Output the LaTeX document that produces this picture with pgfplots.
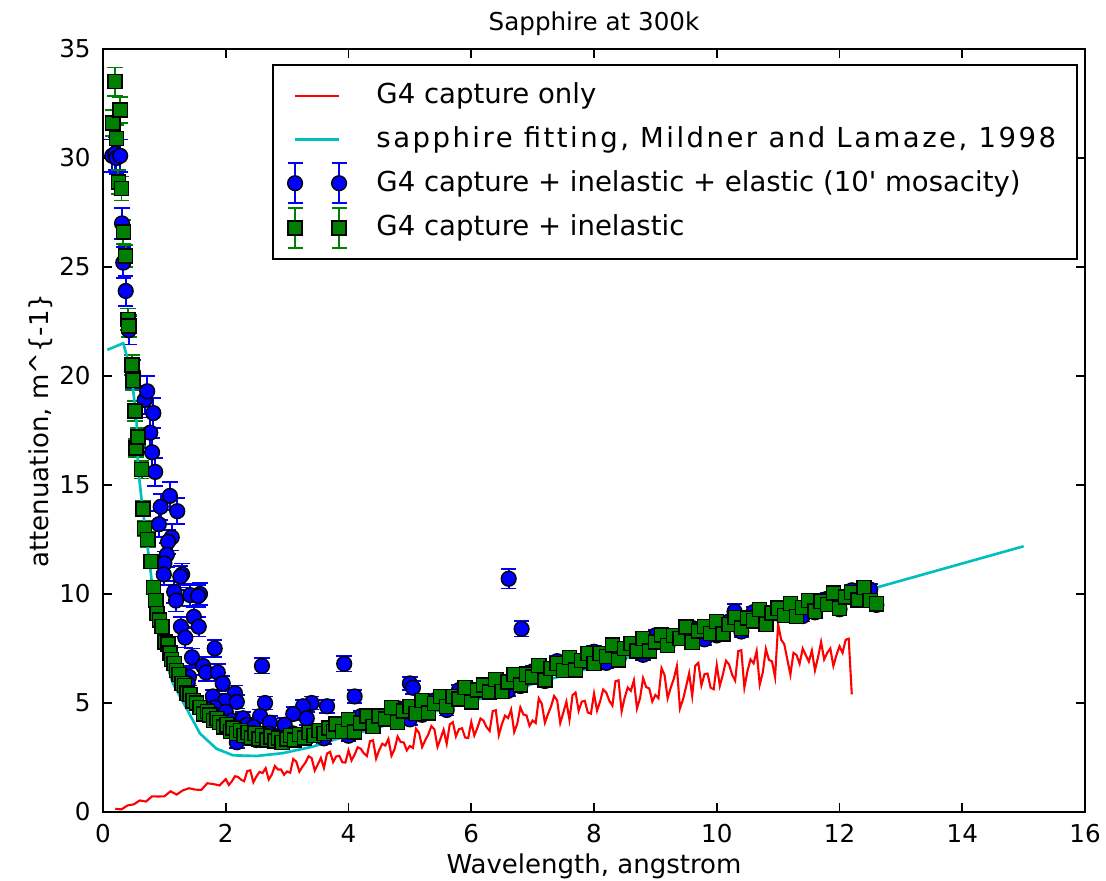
\documentclass[border=0pt]{standalone}
\usepackage{fontspec}
\setmainfont{DejaVu Sans}
\usepackage{pgfplots}
\usepackage{pgfplotstable}
\pgfplotsset{compat=1.18}
\definecolor{mgreen}{rgb}{0,0.5,0}
\definecolor{mcyan}{rgb}{0,0.75,0.75}

\pgfplotstableread{
x y e
0.15 30.1 0.75
0.20 30.2 0.75
0.22 30.0 0.75
0.28 30.1 0.75
0.31 27.0 0.7
0.33 25.2 0.7
0.37 23.9 0.7
0.42 22.1 0.65
0.49 20.1 0.65
0.68 18.9 0.65
0.72 19.3 0.7
0.82 18.3 0.7
0.77 17.4 0.7
0.80 16.5 0.65
0.85 15.6 0.65
1.09 14.5 0.65
0.94 14.0 0.6
1.21 13.8 0.6
0.91 13.2 0.6
1.12 12.6 0.6
1.06 12.4 0.55
1.04 11.8 0.55
1.00 11.4 0.55
0.99 10.9 0.5
1.29 10.9 0.5
1.26 10.8 0.5
1.16 10.1 0.5
1.19 9.7 0.5
1.42 9.95 0.5
1.58 10.0 0.5
1.55 9.9 0.5
1.48 8.95 0.45
1.56 8.5 0.45
1.27 8.5 0.45
1.34 8.0 0.45
1.82 7.5 0.4
1.45 7.1 0.4
1.63 6.7 0.4
1.68 6.4 0.4
1.87 6.4 0.4
1.40 6.2 0.4
1.38 5.9 0.35
1.95 5.9 0.35
2.59 6.7 0.35
3.93 6.8 0.35
2.15 5.45 0.35
4.10 5.3 0.3
1.79 5.3 0.3
1.99 5.1 0.3
2.18 5.05 0.3
1.82 4.8 0.3
1.70 4.7 0.3
2.00 4.6 0.3
2.10 4.2 0.3
2.64 5.0 0.3
3.40 5.0 0.3
3.26 4.85 0.3
3.10 4.5 0.3
3.65 4.85 0.3
5.00 5.9 0.3
5.05 5.7 0.3
2.28 4.3 0.3
2.56 4.4 0.3
2.72 4.1 0.3
2.96 4.0 0.3
3.32 4.3 0.3
2.35 4.0 0.3
2.45 3.9 0.3
2.18 3.2 0.25
2.30 3.5 0.25
2.50 3.3 0.25
2.70 3.6 0.25
2.90 3.25 0.25
3.10 3.6 0.25
3.30 3.4 0.25
3.50 3.7 0.25
3.60 3.38 0.25
3.80 3.99 0.25
4.00 3.50 0.25
4.20 4.39 0.25
4.40 3.98 0.25
4.60 4.32 0.25
4.80 4.76 0.25
5.00 4.25 0.25
5.20 4.46 0.25
5.40 5.12 0.25
5.60 4.68 0.25
5.80 5.59 0.25
6.00 5.20 0.25
6.20 5.57 0.25
6.40 6.04 0.25
6.60 5.56 0.25
6.80 5.78 0.25
7.00 6.45 0.25
7.20 6.01 0.25
7.40 6.92 0.25
7.60 6.53 0.25
7.80 6.89 0.25
8.00 7.35 0.25
8.20 6.84 0.25
8.40 7.03 0.25
8.60 7.67 0.25
8.80 7.21 0.25
9.00 8.10 0.25
9.20 7.68 0.25
9.40 8.01 0.25
9.60 8.44 0.25
9.80 7.92 0.25
10.00 8.10 0.25
10.20 8.74 0.25
10.40 8.28 0.25
10.60 9.17 0.25
10.80 8.76 0.25
11.00 9.10 0.25
11.20 9.52 0.25
11.40 8.99 0.25
11.60 9.16 0.25
11.80 9.78 0.25
12.00 9.30 0.25
12.20 10.17 0.25
12.40 9.74 0.25
12.50 10.2 0.25
12.60 9.5 0.25
6.61 10.7 0.45
6.82 8.4 0.35
10.29 9.2 0.35
}\bluedata

\pgfplotstableread{
x y e
0.16 31.6 0.6
0.195 33.5 0.65
0.22 30.9 0.6
0.25 28.9 0.55
0.28 32.2 0.6
0.30 28.6 0.55
0.33 26.6 0.55
0.37 25.5 0.5
0.41 22.6 0.5
0.42 22.3 0.5
0.47 20.5 0.45
0.49 19.8 0.45
0.52 18.4 0.45
0.54 16.7 0.4
0.57 17.2 0.4
0.63 15.7 0.4
0.65 13.9 0.35
0.68 13.0 0.35
0.73 12.5 0.35
0.78 11.5 0.3
0.82 10.3 0.3
0.86 9.7 0.3
0.88 9.1 0.3
0.92 8.8 0.3
0.96 8.5 0.3
1.01 7.8 0.3
1.06 7.7 0.3
1.09 7.3 0.3
1.12 7.0 0.3
1.16 6.8 0.25
1.20 6.5 0.25
1.24 6.3 0.25
1.29 5.9 0.25
1.33 5.8 0.25
1.37 5.45 0.25
1.42 5.4 0.25
1.47 5.1 0.25
1.52 5.0 0.25
1.58 4.8 0.25
1.64 4.5 0.25
1.70 4.6 0.25
1.74 4.45 0.25
1.80 4.2 0.2
1.86 4.3 0.2
1.90 4.1 0.2
1.96 3.9 0.2
2.02 4.0 0.2
2.08 3.7 0.2
2.12 3.85 0.2
2.18 3.6 0.2
2.24 3.75 0.2
2.30 3.5 0.2
2.36 3.65 0.2
2.42 3.4 0.2
2.48 3.6 0.2
2.54 3.35 0.2
2.60 3.5 0.2
2.67 3.3 0.2
2.74 3.45 0.2
2.80 3.25 0.2
2.86 3.4 0.2
2.92 3.2 0.2
3.00 3.35 0.2
3.06 3.5 0.2
3.12 3.3 0.2
3.20 3.55 0.2
3.28 3.4 0.2
3.36 3.65 0.2
3.44 3.5 0.2
3.52 3.75 0.2
3.60 3.6 0.2
3.68 3.85 0.2
3.76 3.7 0.2
3.8 4.04 0.2
3.9 3.70 0.2
4.0 4.25 0.2
4.1 3.67 0.2
4.2 4.09 0.2
4.3 4.41 0.2
4.4 3.93 0.2
4.5 4.40 0.2
4.6 4.27 0.2
4.7 4.79 0.2
4.8 4.11 0.2
4.9 4.63 0.2
5.0 4.85 0.2
5.1 4.53 0.2
5.2 5.11 0.2
5.3 4.54 0.2
5.4 4.97 0.2
5.5 5.30 0.2
5.6 4.83 0.2
5.7 5.31 0.2
5.8 5.19 0.2
5.9 5.72 0.2
6.0 5.05 0.2
6.1 5.59 0.2
6.2 5.82 0.2
6.3 5.51 0.2
6.4 6.09 0.2
6.5 5.53 0.2
6.6 5.96 0.2
6.7 6.30 0.2
6.8 5.83 0.2
6.9 6.32 0.2
7.0 6.20 0.2
7.1 6.73 0.2
7.2 6.06 0.2
7.3 6.59 0.2
7.4 6.82 0.2
7.5 6.50 0.2
7.6 7.08 0.2
7.7 6.51 0.2
7.8 6.94 0.2
7.9 7.27 0.2
8.0 6.80 0.2
8.1 7.27 0.2
8.2 7.14 0.2
8.3 7.66 0.2
8.4 6.98 0.2
8.5 7.50 0.2
8.6 7.72 0.2
8.7 7.39 0.2
8.8 7.96 0.2
8.9 7.38 0.2
9.0 7.80 0.2
9.1 8.12 0.2
9.2 7.63 0.2
9.3 8.10 0.2
9.4 7.96 0.2
9.5 8.48 0.2
9.6 7.79 0.2
9.7 8.31 0.2
9.8 8.52 0.2
9.9 8.19 0.2
10.0 8.75 0.2
10.1 8.17 0.2
10.2 8.59 0.2
10.3 8.91 0.2
10.4 8.43 0.2
10.5 8.90 0.2
10.6 8.77 0.2
10.7 9.29 0.2
10.8 8.61 0.2
10.9 9.13 0.2
11.0 9.35 0.2
11.1 9.01 0.2
11.2 9.57 0.2
11.3 8.98 0.2
11.4 9.39 0.2
11.5 9.70 0.2
11.6 9.21 0.2
11.7 9.67 0.2
11.8 9.53 0.2
11.9 10.04 0.2
12.0 9.35 0.2
12.1 9.86 0.2
12.2 10.07 0.2
12.3 9.73 0.2
12.4 10.29 0.2
12.5 9.70 0.2
12.6 9.55 0.2
}\greendata

\pgfplotstableread{
x y
0.07 21.2
0.33 21.5
0.41 20.7
0.49 19.4
0.55 17.8
0.57 15.8
0.63 14.3
0.71 12.5
0.77 11.2
0.82 9.9
0.90 8.2
1.01 7.0
1.14 5.9
1.37 4.7
1.58 3.6
1.85 2.9
2.12 2.6
2.50 2.57
2.93 2.7
3.42 3.0
3.75 3.3
5.00 4.29
6.00 5.08
8.00 6.66
10.00 8.24
12.00 9.82
15.00 12.19
}\cyandata

\pgfplotstableread{
x y
0.2 0.15
0.3 0.12
0.4 0.30
0.5 0.35
0.6 0.53
0.7 0.48
0.8 0.72
0.9 0.71
1.0 0.72
1.1 0.95
1.2 0.80
1.3 0.99
1.4 1.09
1.5 1.03
1.6 1.01
1.7 1.32
1.8 1.28
1.9 1.22
2.0 1.51
2.05 1.24
2.1 1.41
2.15 1.64
2.2 1.61
2.25 1.48
2.3 1.41
2.35 1.88
2.4 1.91
2.45 1.36
2.5 1.63
2.55 1.84
2.6 1.79
2.65 2.01
2.7 1.49
2.75 1.71
2.8 2.11
2.85 1.95
2.9 1.95
2.95 1.71
3.0 1.86
3.05 1.80
3.1 2.43
3.15 2.31
3.2 1.85
3.25 2.08
3.3 2.27
3.35 2.56
3.4 2.47
3.45 1.90
3.5 2.18
3.55 2.48
3.6 2.02
3.65 2.68
3.7 2.76
3.75 2.29
3.8 2.55
3.85 2.58
3.9 2.28
3.95 2.27
4.0 2.82
4.05 2.37
4.1 2.64
4.15 2.97
4.2 2.90
4.25 2.69
4.3 2.57
4.35 3.25
4.4 3.29
4.45 2.45
4.5 2.84
4.55 3.13
4.6 3.05
4.65 3.35
4.7 2.58
4.75 2.88
4.8 3.46
4.85 3.21
4.9 3.19
4.95 2.83
5.0 3.03
5.05 2.94
5.1 3.82
5.15 3.63
5.2 2.98
5.25 3.29
5.3 3.56
5.35 3.94
5.4 3.79
5.45 2.99
5.5 3.37
5.55 3.77
5.6 3.13
5.65 4.02
5.7 4.12
5.75 3.47
5.8 3.80
5.85 3.84
5.9 3.42
5.95 3.39
6.0 4.13
6.05 3.51
6.1 3.86
6.15 4.29
6.2 4.19
6.25 3.89
6.3 3.72
6.35 4.63
6.4 4.67
6.45 3.53
6.5 4.04
6.55 4.42
6.6 4.31
6.65 4.69
6.7 3.67
6.75 4.05
6.8 4.80
6.85 4.47
6.9 4.43
6.95 3.95
7.0 4.20
7.05 4.08
7.1 5.21
7.15 4.96
7.2 4.10
7.25 4.49
7.3 4.84
7.35 5.32
7.4 5.12
7.45 4.08
7.5 4.56
7.55 5.06
7.6 4.23
7.65 5.36
7.7 5.48
7.75 4.64
7.8 5.06
7.85 5.10
7.9 4.56
7.95 4.51
8.0 5.43
8.05 4.65
8.1 5.08
8.15 5.62
8.2 5.48
8.25 5.10
8.3 4.88
8.35 6.00
8.4 6.04
8.45 4.62
8.5 5.25
8.55 5.71
8.6 5.56
8.65 6.04
8.7 4.75
8.75 5.22
8.8 6.14
8.85 5.73
8.9 5.67
8.95 5.07
9.0 5.37
9.05 5.22
9.1 6.60
9.15 6.28
9.2 5.22
9.25 5.70
9.3 6.11
9.35 6.69
9.4 4.75
9.45 5.16
9.5 5.75
9.55 6.36
9.6 5.33
9.65 6.71
9.7 6.84
9.75 5.81
9.8 6.32
9.85 6.35
9.9 5.70
9.95 5.63
10.0 6.74
10.05 5.79
10.1 6.31
10.15 6.94
10.2 6.77
10.25 6.30
10.3 6.03
10.35 7.38
10.4 7.42
10.45 5.71
10.5 6.46
10.55 7.00
10.6 6.82
10.65 7.38
10.7 5.84
10.75 6.40
10.8 7.48
10.85 6.98
10.9 6.91
10.95 6.19
11.0 8.60
11.05 7.90
11.1 7.70
11.15 7.00
11.2 6.30
11.25 7.30
11.3 7.20
11.35 6.80
11.4 7.50
11.45 7.20
11.5 6.90
11.55 7.40
11.6 6.50
11.65 7.10
11.7 7.80
11.75 7.00
11.8 7.30
11.85 7.50
11.9 6.70
11.95 7.20
12.0 7.60
12.05 7.30
12.1 7.90
12.15 7.95
12.2 5.40
}\reddata

\pgfplotsset{
  lineleg/.style={legend image code/.code={\path[draw=none, fill=none] (0cm,-0.2cm) rectangle (0.44cm,0.2cm); \draw[##1] (0cm,0cm) -- (0.44cm,0cm);}},
  blueleg/.style={legend image code/.code={
    \draw[blue, line width=0.5pt] (0cm,-0.2cm) -- (0cm,0.2cm) (-0.075cm,-0.2cm) -- (0.075cm,-0.2cm) (-0.075cm,0.2cm) -- (0.075cm,0.2cm)
      (0.44cm,-0.2cm) -- (0.44cm,0.2cm) (0.365cm,-0.2cm) -- (0.515cm,-0.2cm) (0.365cm,0.2cm) -- (0.515cm,0.2cm);
    \draw[black, fill=blue, line width=0.4pt] (0cm,0cm) circle (2.1pt) (0.44cm,0cm) circle (2.1pt);}},
  greenleg/.style={legend image code/.code={
    \draw[mgreen, line width=0.5pt] (0cm,-0.2cm) -- (0cm,0.2cm) (-0.075cm,-0.2cm) -- (0.075cm,-0.2cm) (-0.075cm,0.2cm) -- (0.075cm,0.2cm)
      (0.44cm,-0.2cm) -- (0.44cm,0.2cm) (0.365cm,-0.2cm) -- (0.515cm,-0.2cm) (0.365cm,0.2cm) -- (0.515cm,0.2cm);
    \draw[black, fill=mgreen, line width=0.4pt] (-2pt,-2pt) rectangle (2pt,2pt) ([xshift=-2pt,yshift=-2pt]0.44cm,0cm) rectangle ([xshift=2pt,yshift=2pt]0.44cm,0cm);}},
}

\begin{document}
\begin{tikzpicture}
\begin{axis}[
  scale only axis,
  width=9.82cm, height=7.63cm,
  xmin=0, xmax=16, ymin=0, ymax=35,
  xtick={0,2,...,16}, ytick={0,5,...,35},
  tick align=inside,
  major tick length=0.09cm,
  axis line style={line width=0.7pt},
  every tick/.style={black, line width=0.5pt},
  /pgf/number format/assume math mode=true,
  tick label style={font=\fontsize{7}{8}\selectfont},
  title={Sapphire at 300k},
  title style={font=\fontsize{7}{8}\selectfont, yshift=-5.7pt},
  xlabel={Wavelength, angstrom},
  ylabel={attenuation, m\textasciicircum\{-1\}},
  label style={font=\fontsize{7.4}{9}\selectfont},
  xlabel style={yshift=0.13cm},
  ylabel style={yshift=-0.18cm},
  legend style={at={(0.993,0.980)}, anchor=north east, draw=black, line width=0.6pt,
    font=\fontsize{7.83}{9.5}\selectfont, row sep=0.03cm, inner xsep=4pt, inner ysep=3pt,
    /tikz/every odd column/.append style={column sep=0.22cm}},
  legend cell align=left,
]
\addplot[forget plot, only marks, mark=*, mark size=2.1pt, mark options={fill=blue, draw=black, line width=0.4pt},
  error bars/.cd, y dir=both, y explicit,
  error bar style={blue, line width=0.5pt},
  error mark options={blue, line width=0.5pt, mark size=2.2pt, rotate=90}]
  table[x=x, y=y, y error=e] {\bluedata};
\addplot[forget plot, only marks, mark=square*, mark size=2pt, mark options={fill=mgreen, draw=black, line width=0.4pt},
  error bars/.cd, y dir=both, y explicit,
  error bar style={mgreen, line width=0.5pt},
  error mark options={mgreen, line width=0.5pt, mark size=2.2pt, rotate=90}]
  table[x=x, y=y, y error=e] {\greendata};
\addplot[mcyan, line width=0.75pt, no marks, forget plot] table[x=x, y=y] {\cyandata};
\addplot[red, line width=0.6pt, no marks, forget plot] table[x=x, y=y] {\reddata};
\addlegendimage{red, line width=0.6pt, lineleg}
\addlegendentry{G4 capture only}
\addlegendimage{mcyan, line width=0.75pt, lineleg}
\addlegendentry{\addfontfeature{LetterSpace=9}sapphire fitting, Mildner and Lamaze, 1998}
\addlegendimage{blueleg}
\addlegendentry{G4 capture + inelastic + elastic (10\textquotesingle{} mosacity)}
\addlegendimage{greenleg}
\addlegendentry{G4 capture + inelastic}
\end{axis}
\pgfresetboundingbox
\path ([xshift=-1.03cm,yshift=-0.68cm]current axis.south west) rectangle ([xshift=0.21cm,yshift=0.49cm]current axis.north east);
\end{tikzpicture}
\end{document}
